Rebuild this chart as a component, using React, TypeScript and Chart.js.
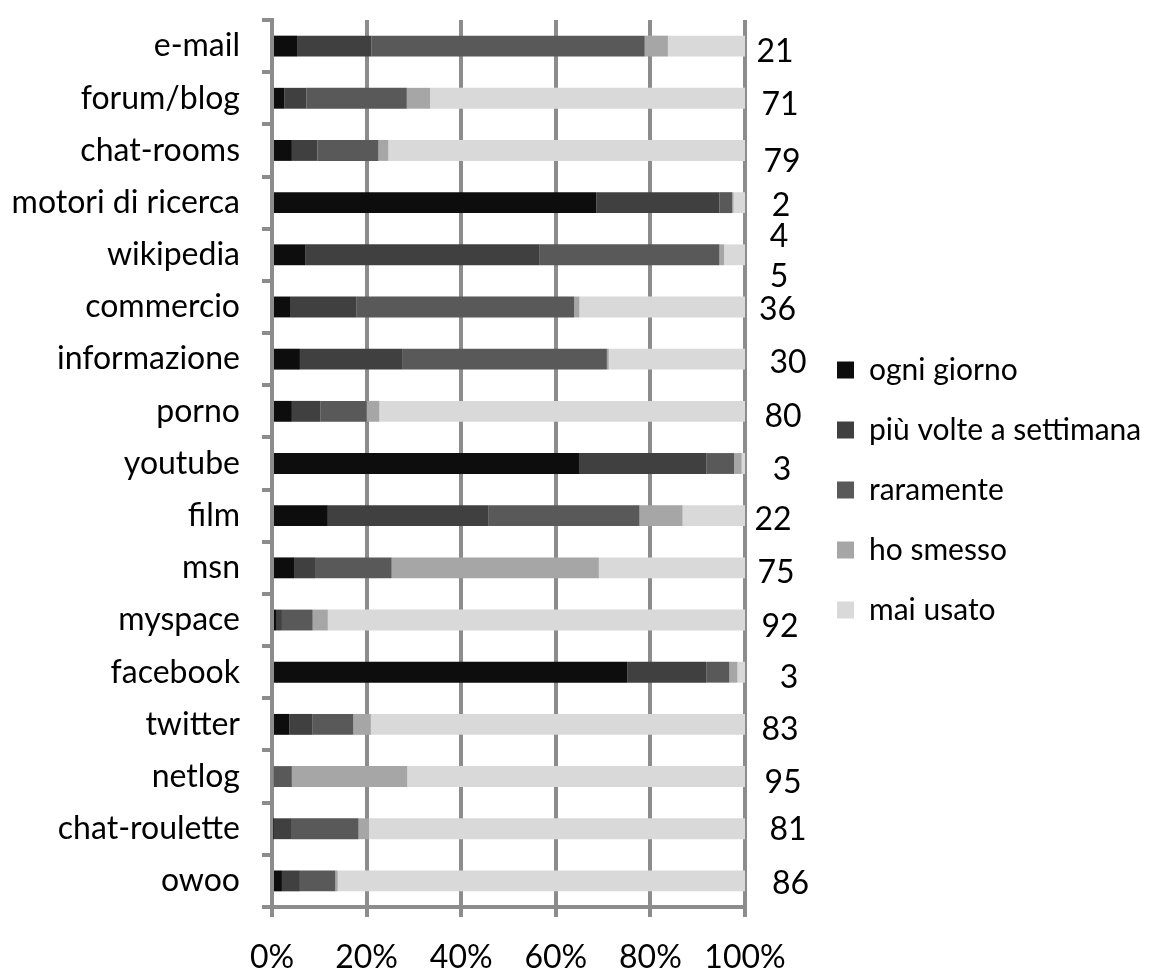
import React, { useEffect, useRef } from "react";
import { Chart, registerables } from "chart.js";

Chart.register(...registerables);

// ---------- data ----------
const categories = [
  "e-mail",
  "forum/blog",
  "chat-rooms",
  "motori di ricerca",
  "wikipedia",
  "commercio",
  "informazione",
  "porno",
  "youtube",
  "film",
  "msn",
  "myspace",
  "facebook",
  "twitter",
  "netlog",
  "chat-roulette",
  "owoo",
];

const seriesNames = [
  "ogni giorno",
  "più volte a settimana",
  "raramente",
  "ho smesso",
  "mai usato",
];

const ogniGiorno = [5.3, 2.6, 4.2, 68.6, 7.0, 3.8, 5.9, 4.2, 64.9, 11.8, 4.8, 1.0, 75.1, 3.7, 0.0, 0.3, 2.1];
const piuVolte = [15.7, 4.7, 5.4, 26.0, 49.6, 14.1, 21.6, 6.0, 26.9, 33.9, 4.3, 1.1, 16.7, 4.9, 0.4, 3.9, 3.8];
const raramente = [57.8, 21.2, 12.9, 2.7, 38.0, 46.0, 43.3, 9.8, 5.9, 32.0, 16.2, 6.5, 4.9, 8.6, 3.8, 14.1, 7.5];
const hoSmesso = [4.9, 4.9, 2.1, 0.3, 1.0, 1.1, 0.4, 2.7, 1.6, 9.1, 43.8, 3.2, 1.7, 3.7, 24.4, 2.2, 0.5];
const maiUsato = [16.3, 66.6, 75.4, 2.4, 4.4, 35.0, 28.8, 77.3, 0.7, 13.2, 30.9, 88.2, 1.6, 79.1, 71.4, 79.5, 86.1];

const xTickLabels = ["0%", "20%", "40%", "60%", "80%", "100%"];

// numbers written to the right of each bar
const rightLabels: (string | string[])[] = [
  "21", "71", "79", "2", ["4", "5"], "36", "30", "80", "3", "22", "75", "92", "3", "83", "95", "81", "86",
];

// ---------- styling ----------
const COLORS = ["#0d0d0d", "#404040", "#595959", "#a6a6a6", "#d9d9d9"];
const GRID = "#8c8c8c";
const FONT = "Lato";
const FONT_SIZE = 32;
const LEGEND_FONT_SIZE = 30;
const PLOT_RIGHT = 745;
const LEGEND_GAP = 62;
// small placement nudges of the hand-placed right-hand labels
const labelDx = [30, 35, 37, 36, 34, 32.5, 43, 38, 37, 28, 31, 35, 44, 35, 38, 43, 45.5];
const labelDy = [5.6, 6.7, 11.3, 3.2, 2, 3, 3.4, 5.4, 6.5, 4.4, 4.7, 7, 5.4, 5.7, 6.5, 1.4, 2.5];

export default function App() {
  const ref = useRef<HTMLCanvasElement>(null);

  useEffect(() => {
    document.body.style.margin = "0";
    const canvas = ref.current;
    if (!canvas) return;

    const series = [ogniGiorno, piuVolte, raramente, hoSmesso, maiUsato];
    const totals = categories.map((_, i) => series.reduce((s, arr) => s + arr[i], 0));
    const datasets = series.map((arr, k) => ({
      label: seriesNames[k],
      data: arr.map((v, i) => (v / totals[i]) * 100),
      backgroundColor: COLORS[k],
      borderColor: COLORS[k],
      borderWidth: 0,
      barPercentage: 0.4,
      categoryPercentage: 1,
    }));

    const rightLabelsPlugin = {
      id: "rightLabels",
      afterLayout(chart: any) {
        const lg = chart.legend;
        if (lg) {
          lg.left = chart.chartArea.right + LEGEND_GAP;
          lg.right = lg.left + lg.width;
        }
      },
      afterDatasetsDraw(chart: any) {
        const { ctx, chartArea, scales } = chart;
        ctx.save();
        ctx.font = `${FONT_SIZE}px ${FONT}`;
        ctx.fillStyle = "#000";
        ctx.textAlign = "center";
        ctx.textBaseline = "middle";
        rightLabels.forEach((lab, i) => {
          const y = scales.y.getPixelForValue(i) + labelDy[i];
          const x = chartArea.right + labelDx[i];
          const lines = Array.isArray(lab) ? lab : [lab];
          const lh = 40;
          lines.forEach((t, j) => {
            ctx.fillText(t, x, y + (j - (lines.length - 1) / 2) * lh);
          });
        });
        ctx.restore();
      },
    };

    const font = { family: FONT, size: FONT_SIZE };

    const chart = new Chart(canvas, {
      type: "bar",
      data: { labels: categories, datasets },
      options: {
        indexAxis: "y",
        responsive: false,
        animation: false,
        layout: { padding: { top: 12, right: 0, bottom: 0, left: 0 } },
        scales: {
          x: {
            stacked: true,
            min: 0,
            max: 100,
            grid: { color: GRID, lineWidth: 4, tickLength: 10 },
            border: { color: GRID, width: 4 },
            ticks: {
              stepSize: 20,
              color: "#000",
              font,
              padding: 21,
              callback: (v: any) => xTickLabels[Math.round(Number(v) / 20)],
            },
            afterFit: (s: any) => {
              s.height = 61;
            },
          },
          y: {
            stacked: true,
            grid: { drawOnChartArea: false, color: GRID, lineWidth: 4, tickLength: 10, offset: true },
            border: { color: GRID, width: 4 },
            ticks: { color: "#000", font, padding: 22, autoSkip: false },
            afterFit: (s: any) => {
              s.width = 272;
              s.paddingTop = 20;
              s.paddingBottom = 0;
            },
          },
          y2: {
            type: "category",
            position: "right",
            labels: categories,
            grid: { display: false },
            border: { display: false },
            ticks: { display: false },
            afterFit: (s: any) => {
              const lw = s.chart.legend ? s.chart.legend.width : 0;
              s.width = Math.max(0, s.chart.width - lw - PLOT_RIGHT);
              s.paddingTop = 0;
              s.paddingBottom = 0;
            },
          },
        },
        plugins: {
          legend: {
            position: "right",
            maxWidth: 344,
            labels: {
              boxWidth: 17,
              boxHeight: 17,
              padding: 30,
              color: "#000",
              font: { family: FONT, size: LEGEND_FONT_SIZE },
            },
          },
          tooltip: { enabled: false },
        },
      } as any,
      plugins: [rightLabelsPlugin],
    });

    return () => chart.destroy();
  }, []);

  return <canvas ref={ref} width={1151} height={968} style={{ display: "block" }} />;
}
